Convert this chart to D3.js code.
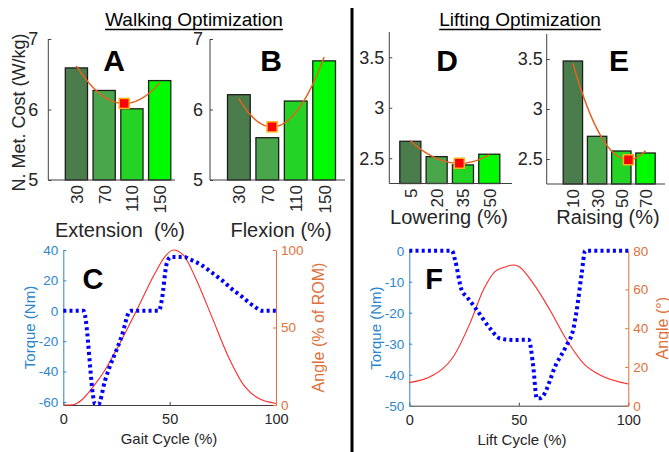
<!DOCTYPE html>
<html>
<head>
<meta charset="utf-8">
<script src="https://cdn.jsdelivr.net/npm/d3@7"></script>
<style>
  body { margin: 0; background: #fff; }
  svg { display: block; font-family: "Liberation Sans", Arial, sans-serif; }
</style>
</head>
<body>
<svg id="chart" width="669" height="452"></svg>
<script>
// ---------------- DATA ----------------
const catsA = [30, 70, 110, 150];
const valsA = [6.59, 6.27, 6.01, 6.41];
const catsB = [30, 70, 110, 150];
const valsB = [6.21, 5.60, 6.12, 6.69];
const catsD = [5, 20, 35, 50];
const valsD = [2.668, 2.516, 2.434, 2.54];
const catsE = [10, 30, 50, 70];
const valsE = [3.48, 2.727, 2.58, 2.56];

const ticksAB = [5, 6, 7];
const ticksDE = [2.5, 3, 3.5];
const ticksTorqueC = [-60, -40, -20, 0, 20, 40];
const ticksAngleC = [0, 50, 100];
const ticksTorqueF = [-50, -40, -30, -20, -10, 0];
const ticksAngleF = [0, 20, 40, 60, 80];
const ticksCycle = [0, 50, 100];

const barColors = ["#4a7d4b", "#4aa64b", "#24d424", "#00fa00"];

// Gait cycle (%) vs torque (Nm) -- panel C
const torqueC = [[0,0],[9.5,0],[15,-61.5],[16.5,-61.5],[19.6,-46],[27.4,-17],[31.5,0],[45,0],[46.3,7],[48.6,31],[50.5,35.4],[57,35.4],[58.8,34.3],[65.1,30],[69.5,25.5],[74.5,20.2],[79,14.6],[83.9,9.4],[87.5,5.2],[90.1,2.6],[93.3,0],[100,0]];
// Gait cycle (%) vs angle (% of ROM) -- panel C
const angleC = [[0,0],[4.7,0.2],[8.6,3.2],[14.1,11.8],[19.6,22.6],[27.4,41.9],[35.3,63.4],[43.1,85],[47.8,95.7],[51.7,100],[56.4,96.8],[61.9,82.8],[69.8,57],[77.6,31.2],[85.4,11.8],[91.7,4.3],[100,1]];
// Lift cycle (%) vs torque (Nm) -- panel F
const torqueF = [[0,0],[19.5,0],[20.9,-3],[23.9,-12.7],[26.2,-14.8],[30.8,-19.1],[36.8,-25],[41.4,-28.3],[47.5,-28.8],[54.5,-28.7],[56.6,-37.4],[58.2,-47.6],[59.7,-47.6],[67.3,-36.3],[71.9,-30.4],[74.9,-25.3],[76.4,-19.4],[78.7,-7.5],[80.3,0],[100,0]];
// Lift cycle (%) vs angle (deg) -- panel F
const angleF = [[0,11.9],[11,15.8],[20.1,25.3],[27.7,42.5],[33.8,59.7],[39.1,69.2],[43.5,71.5],[47.5,72.6],[49.8,72],[56.6,63.1],[64.2,49.4],[71.9,33.9],[79.5,21.9],[87.1,15.8],[100,11.2]];

// ---------------- DRAWING ----------------
const svg = d3.select("#chart");
const FONT = "'Liberation Sans', Arial, sans-serif";
const TXT = "#262626";
const BLUE = "#2c86cc";
const ORANGE = "#e0703a";
const FITCOL = "#e4621f";
const fmt = d => String(d);

// least-squares quadratic fit of bar values (the chart's regression curve)
function quadFit(xs, ys) {
  const n = xs.length;
  let S = [0,0,0,0,0], T = [0,0,0];
  for (let i = 0; i < n; i++) {
    let p = 1;
    for (let k = 0; k < 5; k++) { S[k] += p; if (k < 3) T[k] += p * ys[i]; p *= xs[i]; }
  }
  const M = [[S[0],S[1],S[2],T[0]],[S[1],S[2],S[3],T[1]],[S[2],S[3],S[4],T[2]]];
  for (let c = 0; c < 3; c++) {
    for (let r = c + 1; r < 3; r++) {
      const f = M[r][c] / M[c][c];
      for (let k = c; k < 4; k++) M[r][k] -= f * M[c][k];
    }
  }
  const co = [0,0,0];
  for (let r = 2; r >= 0; r--) {
    let s = M[r][3];
    for (let k = r + 1; k < 3; k++) s -= M[r][k] * co[k];
    co[r] = s / M[r][r];
  }
  return co; // a + b x + c x^2
}

function barPanel(o) {
  const g = svg.append("g");
  const x = d3.scaleBand().domain(o.cats).range(o.bandRange).paddingInner(0.2).paddingOuter(0);
  const y = d3.scaleLinear().domain(o.ydom).range([o.bottom, o.top]);
  g.selectAll("rect.bar").data(o.vals).join("rect")
    .attr("x", (d, i) => x(o.cats[i]))
    .attr("width", x.bandwidth())
    .attr("y", d => y(d))
    .attr("height", d => y(o.ydom[0]) - y(d))
    .attr("fill", (d, i) => barColors[i])
    .attr("stroke", "#1e1e1e").attr("stroke-width", 1.3);
  g.append("line").attr("x1", o.left).attr("x2", o.left).attr("y1", o.top).attr("y2", o.bottom)
    .attr("stroke", "#404040").attr("stroke-width", 1);
  g.append("line").attr("x1", o.left).attr("x2", o.right).attr("y1", o.bottom).attr("y2", o.bottom)
    .attr("stroke", "#404040").attr("stroke-width", 1.2);
  const yAxis = d3.axisLeft(y).tickValues(o.yticks).tickSize(0).tickPadding(o.tickPad).tickFormat(fmt);
  const ya = g.append("g").attr("transform", `translate(${o.left},0)`).call(yAxis);
  ya.select(".domain").remove();
  ya.selectAll("text").attr("font-size", o.tickFont).attr("font-family", FONT).attr("fill", TXT);
  ya.selectAll(".tick").append("line").attr("x1", 0).attr("x2", 3).attr("stroke", "#404040");
  g.selectAll("text.cat").data(o.cats).join("text")
    .attr("transform", d => `translate(${x(d) + x.bandwidth() / 2 + 1},${o.bottom + 5}) rotate(-90)`)
    .attr("text-anchor", "end").attr("dominant-baseline", "central")
    .attr("font-size", 17).attr("font-family", FONT).attr("fill", TXT)
    .text(d => d);
  g.append("text").attr("x", o.xlabX).attr("y", o.xlabY).attr("text-anchor", "middle")
    .attr("font-size", 20).attr("font-family", FONT).attr("fill", TXT)
    .attr("xml:space", "preserve").text(o.xlabel);
  const xn = d3.scaleLinear().domain([o.cats[0], o.cats[o.cats.length - 1]])
    .range([x(o.cats[0]) + x.bandwidth() / 2, x(o.cats[o.cats.length - 1]) + x.bandwidth() / 2]);
  const co = quadFit(o.cats, o.vals);
  const f = v => co[0] + co[1] * v + co[2] * v * v;
  const pts = d3.range(0, 61).map(i => {
    const v = o.cats[0] + (o.cats[o.cats.length - 1] - o.cats[0]) * i / 60;
    return [v, f(v)];
  });
  g.append("path").datum(pts)
    .attr("d", d3.line().x(d => xn(d[0])).y(d => y(d[1])))
    .attr("fill", "none").attr("stroke", FITCOL).attr("stroke-width", 1.5);
  const vmin = -co[1] / (2 * co[2]);
  g.append("rect").attr("x", xn(vmin) - 5).attr("y", y(f(vmin)) - 5).attr("width", 10).attr("height", 10)
    .attr("fill", "#ff0000").attr("stroke", "#ffb020").attr("stroke-width", 1.5);
  g.append("text").attr("x", o.letterX).attr("y", o.letterY).attr("text-anchor", "middle")
    .attr("font-size", 30).attr("font-weight", "bold").attr("font-family", FONT).attr("fill", "#000")
    .text(o.letter);
  return g;
}

barPanel({cats: catsA, vals: valsA, ydom: [5, 7], yticks: ticksAB, left: 48.3, right: 175, top: 39, bottom: 180,
  bandRange: [65.3, 170.8], tickPad: 10, tickFont: 18, xlabel: "Extension  (%)", xlabX: 120, xlabY: 237,
  letter: "A", letterX: 114, letterY: 71});
barPanel({cats: catsB, vals: valsB, ydom: [5, 7], yticks: ticksAB, left: 210, right: 345, top: 39, bottom: 180,
  bandRange: [227.5, 335.5], tickPad: 7, tickFont: 18, xlabel: "Flexion (%)", xlabX: 281, xlabY: 237,
  letter: "B", letterX: 271, letterY: 71});
barPanel({cats: catsD, vals: valsD, ydom: [2.25, 3.75], yticks: ticksDE, left: 389.3, right: 512, top: 32, bottom: 183.5,
  bandRange: [399.8, 499.8], tickPad: 5, tickFont: 18, xlabel: "Lowering (%)", xlabX: 449, xlabY: 224,
  letter: "D", letterX: 447, letterY: 71});
barPanel({cats: catsE, vals: valsE, ydom: [2.25, 3.75], yticks: ticksDE, left: 546.7, right: 665, top: 34, bottom: 184,
  bandRange: [563.2, 655.2], tickPad: 4, tickFont: 18, xlabel: "Raising (%)", xlabX: 608, xlabY: 224,
  letter: "E", letterX: 619, letterY: 71});

svg.append("text").attr("transform", "translate(25,112.5) rotate(-90)").attr("text-anchor", "middle")
  .attr("font-size", 18).attr("font-family", FONT).attr("fill", TXT).text("N. Met. Cost (W/kg)");

function title(txt, cx, y) {
  const t = svg.append("text").attr("x", cx).attr("y", y).attr("text-anchor", "middle")
    .attr("font-size", 19).attr("font-family", FONT).attr("fill", "#000").text(txt);
  const w = t.node().getComputedTextLength();
  svg.append("line").attr("x1", cx - w / 2).attr("x2", cx + w / 2).attr("y1", y + 3.5).attr("y2", y + 3.5)
    .attr("stroke", "#000").attr("stroke-width", 1.3);
}
title("Walking Optimization", 194, 26);
title("Lifting Optimization", 520, 26);

svg.append("line").attr("x1", 352).attr("x2", 352).attr("y1", 8).attr("y2", 452)
  .attr("stroke", "#000").attr("stroke-width", 3);

function linePanel(o) {
  const g = svg.append("g");
  const x = d3.scaleLinear().domain([0, 100]).range([o.left, o.right]);
  const yl = d3.scaleLinear().domain(o.ldom).range([o.bottom, o.top]);
  const yr = d3.scaleLinear().domain(o.rdom).range([o.bottom, o.top]);
  const xa = g.append("g").attr("transform", `translate(0,${o.bottom})`)
    .call(d3.axisBottom(x).tickValues(ticksCycle).tickSizeInner(-3).tickSizeOuter(0).tickPadding(9).tickFormat(fmt));
  xa.select(".domain").attr("stroke", "#404040");
  xa.selectAll(".tick line").attr("stroke", "#404040");
  xa.selectAll("text").attr("font-size", 14.5).attr("font-family", FONT).attr("fill", TXT);
  const la = g.append("g").attr("transform", `translate(${o.left},0)`)
    .call(d3.axisLeft(yl).tickValues(o.lticks).tickSizeInner(-3).tickSizeOuter(0).tickPadding(5).tickFormat(fmt));
  la.select(".domain").attr("stroke", BLUE);
  la.selectAll(".tick line").attr("stroke", BLUE);
  la.selectAll("text").attr("font-size", 13.5).attr("font-family", FONT).attr("fill", BLUE);
  const ra = g.append("g").attr("transform", `translate(${o.right},0)`)
    .call(d3.axisRight(yr).tickValues(o.rticks).tickSizeInner(-3).tickSizeOuter(0).tickPadding(5).tickFormat(fmt));
  ra.select(".domain").attr("stroke", ORANGE);
  ra.selectAll(".tick line").attr("stroke", ORANGE);
  ra.selectAll("text").attr("font-size", 13.5).attr("font-family", FONT).attr("fill", ORANGE);
  g.append("path").datum(o.angle)
    .attr("d", d3.line().x(d => x(d[0])).y(d => yr(d[1])).curve(d3.curveMonotoneX))
    .attr("fill", "none").attr("stroke", "#ff2a2a").attr("stroke-width", 1.1);
  g.append("path").datum(o.torque)
    .attr("d", d3.line().x(d => x(d[0])).y(d => yl(d[1])).curve(d3.curveMonotoneX))
    .attr("fill", "none").attr("stroke", "#0000ff").attr("stroke-width", 4).attr("stroke-dasharray", "3,3.2");
  g.append("text").attr("x", o.xlabX).attr("y", o.bottom + 39).attr("text-anchor", "middle")
    .attr("font-size", 15).attr("font-family", FONT).attr("fill", TXT).text(o.xlabel);
  g.append("text").attr("transform", `translate(${o.llabX},${(o.top + o.bottom) / 2}) rotate(-90)`)
    .attr("text-anchor", "middle").attr("dominant-baseline", "central")
    .attr("font-size", 15).attr("font-family", FONT).attr("fill", BLUE).text("Torque (Nm)");
  g.append("text").attr("transform", `translate(${o.rlabX},${(o.top + o.bottom) / 2}) rotate(-90)`)
    .attr("text-anchor", "middle").attr("dominant-baseline", "central")
    .attr("font-size", 16).attr("font-family", FONT).attr("fill", ORANGE).text(o.rlabel);
  g.append("text").attr("x", o.letterX).attr("y", o.letterY).attr("text-anchor", "middle")
    .attr("font-size", 29).attr("font-weight", "bold").attr("font-family", FONT).attr("fill", "#000")
    .text(o.letter);
}

linePanel({left: 63.3, right: 276, top: 250, bottom: 405, ldom: [-62, 40], rdom: [0, 100],
  lticks: ticksTorqueC, rticks: ticksAngleC, torque: torqueC, angle: angleC,
  xlabel: "Gait Cycle (%)", xlabX: 169, rlabel: "Angle (% of ROM)", llabX: 29, rlabX: 318,
  letter: "C", letterX: 93, letterY: 289});
linePanel({left: 409.3, right: 628.3, top: 250.7, bottom: 405.7, ldom: [-50, 0], rdom: [0, 80],
  lticks: ticksTorqueF, rticks: ticksAngleF, torque: torqueF, angle: angleF,
  xlabel: "Lift Cycle (%)", xlabX: 522, rlabel: "Angle (°)", llabX: 375, rlabX: 662,
  letter: "F", letterX: 434, letterY: 289});
</script>
</body>
</html>
